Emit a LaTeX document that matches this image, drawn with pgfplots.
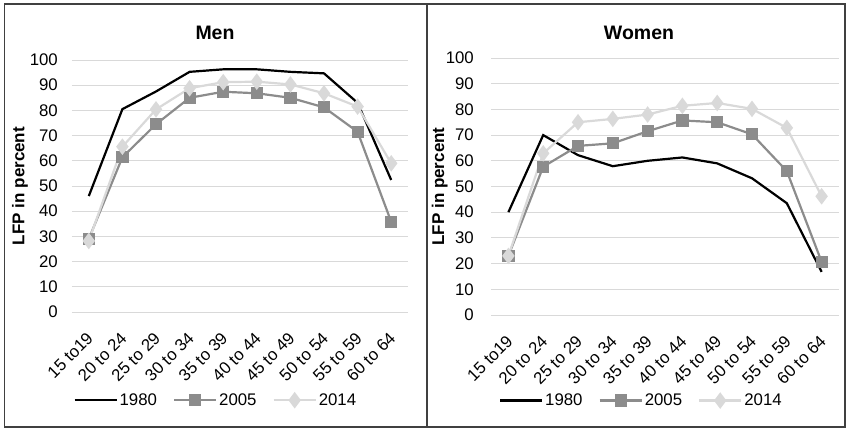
\documentclass[border=0pt]{standalone}
\usepackage{pgfplots}
\pgfplotsset{compat=1.18}
\usepackage{fontspec}
\setmainfont{Liberation Sans}

\definecolor{c2005}{HTML}{8C8C8C}
\definecolor{c2014}{HTML}{D9D9D9}
\definecolor{gridc}{HTML}{D9D9D9}
\definecolor{framec}{HTML}{404040}

\newcommand{\tickfont}{\fontsize{16.8}{18}\selectfont}

\pgfplotsset{
  lfp/.style={
    scale only axis,
    xmin=-0.5, xmax=9.5, ymin=0, ymax=100,
    axis line style={draw=none},
    tick style={draw=none},
    ytick={0,10,...,100},
    ymajorgrids,
    grid style={gridc, line width=1pt},
    xtick={0,...,9},
    xticklabels={15 to19, 20 to 24, 25 to 29, 30 to 34, 35 to 39,
                 40 to 44, 45 to 49, 50 to 54, 55 to 59, 60 to 64},
    xticklabel style={xshift=-3pt, yshift=-19pt, rotate=45, anchor=north east,
                      inner sep=0pt, font=\tickfont},
    yticklabel style={anchor=east, inner sep=0pt, font=\tickfont},
    /pgf/number format/assume math mode=true,
    ylabel={LFP in percent},
    ylabel style={anchor=center, font=\bfseries\fontsize{17}{19}\selectfont},
    legend columns=3,
    legend style={draw=none, fill=none, anchor=center, font=\tickfont,
      /tikz/every odd column/.append style={column sep=0pt},
      /tikz/every even column/.append style={column sep=14pt}},
    legend image code/.code={
      \draw[mark repeat=2, mark phase=2, ##1]
        plot coordinates {(0pt,0pt) (21pt,0pt) (42pt,0pt)};},
    clip=false,
  },
  s1980/.style={black, line width=2.2pt, mark=none},
  s2005/.style={c2005, line width=2.2pt, mark=square*, mark size=5pt},
  s2014/.style={c2014, line width=2.2pt, mark=diamond*, mark size=6.5pt},
}

\begin{document}
\begin{tikzpicture}[x=1pt, y=1pt]
\path[use as bounding box] (0,0) rectangle (849,429);
\draw[framec, line width=1.2pt] (4.5,2) rectangle (845,425);
\draw[framec, line width=1.2pt] (427,2) -- (427,425);

\node[font=\bfseries\fontsize{19.5}{21}\selectfont] at (215,396) {Men};
\node[font=\bfseries\fontsize{19.5}{21}\selectfont] at (639,396) {Women};

% Men
\begin{axis}[lfp, width=336pt, height=252pt, at={(72pt,117pt)}, anchor=south west,
  yticklabel style={xshift=-14pt},
  ylabel style={at={(axis description cs:-0.155,0.5)}},
  legend style={at={(axis description cs:0.428,-0.35)}}]
\addplot[s1980] coordinates {(0,46) (1,80.5) (2,87.5) (3,95.3) (4,96.3) (5,96.3) (6,95.3) (7,94.7) (8,83) (9,52.4)};
\addlegendentry{1980}
\addplot[s2005] coordinates {(0,29) (1,61.4) (2,74.5) (3,85) (4,87.4) (5,86.8) (6,85) (7,81.2) (8,71.5) (9,35.8)};
\addlegendentry{2005}
\addplot[s2014] coordinates {(0,28.2) (1,65.6) (2,80.4) (3,88.8) (4,91.2) (5,91.4) (6,90.3) (7,86.8) (8,81.5) (9,59)};
\addlegendentry{2014}
\end{axis}

% Women
\begin{axis}[lfp, width=348pt, height=257pt, at={(491pt,114pt)}, anchor=south west,
  yticklabel style={xshift=-17pt},
  ylabel style={at={(axis description cs:-0.147,0.5)}},
  legend style={at={(axis description cs:0.432,-0.333)}}]
\addplot[s1980] coordinates {(0,40) (1,70) (2,62.2) (3,57.9) (4,60) (5,61.3) (6,59) (7,53.2) (8,43.5) (9,16.8)};
\addlegendentry{1980}
\addplot[s2005] coordinates {(0,23) (1,57.7) (2,65.8) (3,66.8) (4,71.5) (5,75.7) (6,75) (7,70.3) (8,56) (9,20.7)};
\addlegendentry{2005}
\addplot[s2014] coordinates {(0,23) (1,62.9) (2,75) (3,76.3) (4,78) (5,81.4) (6,82.5) (7,80.2) (8,72.8) (9,46.2)};
\addlegendentry{2014}
\end{axis}
\end{tikzpicture}
\end{document}
